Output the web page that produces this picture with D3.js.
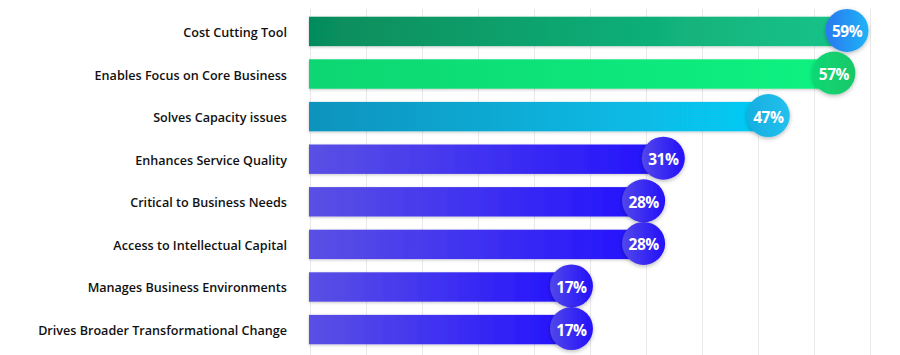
<!DOCTYPE html>
<html>
<head>
<meta charset="utf-8">
<script src="https://cdn.jsdelivr.net/npm/d3@7"></script>
<style>
  html, body { margin: 0; padding: 0; background: #ffffff; }
  svg { display: block; }
</style>
</head>
<body>
<svg id="chart" width="900" height="355"></svg>
<script>
// ---- data ----
const categories = [
  "Cost Cutting Tool",
  "Enables Focus on Core Business",
  "Solves Capacity issues",
  "Enhances Service Quality",
  "Critical to Business Needs",
  "Access to Intellectual Capital",
  "Manages Business Environments",
  "Drives Broader Transformational Change"
];
const values = [59, 57, 47, 31, 28, 28, 17, 17];
const valueLabels = ["59%", "57%", "47%", "31%", "28%", "28%", "17%", "17%"];

// ---- styles (kept separate from data) ----
const barGradients = [
  ["#068b5b", "#17c48a"],
  ["#08d672", "#0cf281"],
  ["#0a93bd", "#06cbf5"],
  ["#5a50e4", "#2412fd"],
  ["#5a50e4", "#2412fd"],
  ["#5a50e4", "#2412fd"],
  ["#5a50e4", "#2412fd"],
  ["#5a50e4", "#2412fd"]
];
const dotGradients = [
  ["#2a78f0", "#1fb3f6"],
  ["#0fd873", "#18c76a"],
  ["#16aee0", "#22c1ee"],
  ["#5247ea", "#2310f9"],
  ["#5247ea", "#2310f9"],
  ["#5247ea", "#2310f9"],
  ["#5247ea", "#2310f9"],
  ["#5247ea", "#2310f9"]
];

const svg = d3.select("#chart");
const W = 900, H = 355;
const left = 309, right = 870;

const x = d3.scaleLinear().domain([-23, 62.5]).range([left, right]);
const grid = d3.scaleLinear().domain([0, 10]).range([left + 1, right]);
const y = d3.scaleBand()
  .domain(categories)
  .range([10, 351])
  .paddingInner(0.31)
  .paddingOuter(0.158);

const defs = svg.append("defs");
const barShadow = defs.append("filter").attr("id", "barShadow")
  .attr("x", "-5%").attr("y", "-40%").attr("width", "110%").attr("height", "180%");
barShadow.append("feDropShadow").attr("dx", 0).attr("dy", 1).attr("stdDeviation", 1.8)
  .attr("flood-color", "#000").attr("flood-opacity", 0.22);
const dotShadow = defs.append("filter").attr("id", "dotShadow")
  .attr("x", "-50%").attr("y", "-50%").attr("width", "200%").attr("height", "200%");
dotShadow.append("feDropShadow").attr("dx", 0).attr("dy", 1.5).attr("stdDeviation", 2.2)
  .attr("flood-color", "#000").attr("flood-opacity", 0.28);

barGradients.forEach((g, i) => {
  const lg = defs.append("linearGradient").attr("id", "bg" + i)
    .attr("x1", 0).attr("x2", 1).attr("y1", 0).attr("y2", 0);
  lg.append("stop").attr("offset", "0%").attr("stop-color", g[0]);
  lg.append("stop").attr("offset", "100%").attr("stop-color", g[1]);
});
dotGradients.forEach((g, i) => {
  const lg = defs.append("linearGradient").attr("id", "dg" + i)
    .attr("x1", 0).attr("x2", 1).attr("y1", 0).attr("y2", 0);
  lg.append("stop").attr("offset", "0%").attr("stop-color", g[0]);
  lg.append("stop").attr("offset", "100%").attr("stop-color", g[1]);
});

// gridlines
svg.append("g").selectAll("line")
  .data(grid.ticks(10))
  .join("line")
  .attr("x1", d => Math.round(grid(d)) + 0.5)
  .attr("x2", d => Math.round(grid(d)) + 0.5)
  .attr("y1", 9).attr("y2", H)
  .attr("stroke", "#e9e9e9").attr("stroke-width", 1);

// category labels
svg.append("g").selectAll("text")
  .data(categories)
  .join("text")
  .attr("x", 287)
  .attr("y", d => y(d) + y.bandwidth() / 2 + 1)
  .attr("text-anchor", "end")
  .attr("dominant-baseline", "central")
  .attr("font-family", "'Open Sans', sans-serif")
  .attr("font-weight", 600)
  .attr("font-size", 12.6)
  .attr("fill", "#111111")
  .text(d => d);

// bars
svg.append("g").selectAll("rect")
  .data(values)
  .join("rect")
  .attr("x", left)
  .attr("y", (d, i) => y(categories[i]))
  .attr("width", d => x(d) - left)
  .attr("height", y.bandwidth())
  .attr("fill", (d, i) => `url(#bg${i})`)
  .attr("filter", "url(#barShadow)");

// value circles
const r = 21.5;
const dots = svg.append("g").selectAll("g")
  .data(values)
  .join("g")
  .attr("transform", (d, i) => `translate(${x(d)},${y(categories[i]) + y.bandwidth() / 2 - 1})`);
dots.append("circle")
  .attr("r", r)
  .attr("fill", (d, i) => `url(#dg${i})`)
  .attr("filter", "url(#dotShadow)");
dots.append("text")
  .attr("text-anchor", "middle")
  .attr("dominant-baseline", "central")
  .attr("y", 1)
  .attr("font-family", "'Open Sans', sans-serif")
  .attr("font-weight", 700)
  .attr("font-size", 15.5)
  .attr("letter-spacing", -0.5)
  .attr("fill", "#ffffff")
  .text((d, i) => valueLabels[i]);
</script>
</body>
</html>
